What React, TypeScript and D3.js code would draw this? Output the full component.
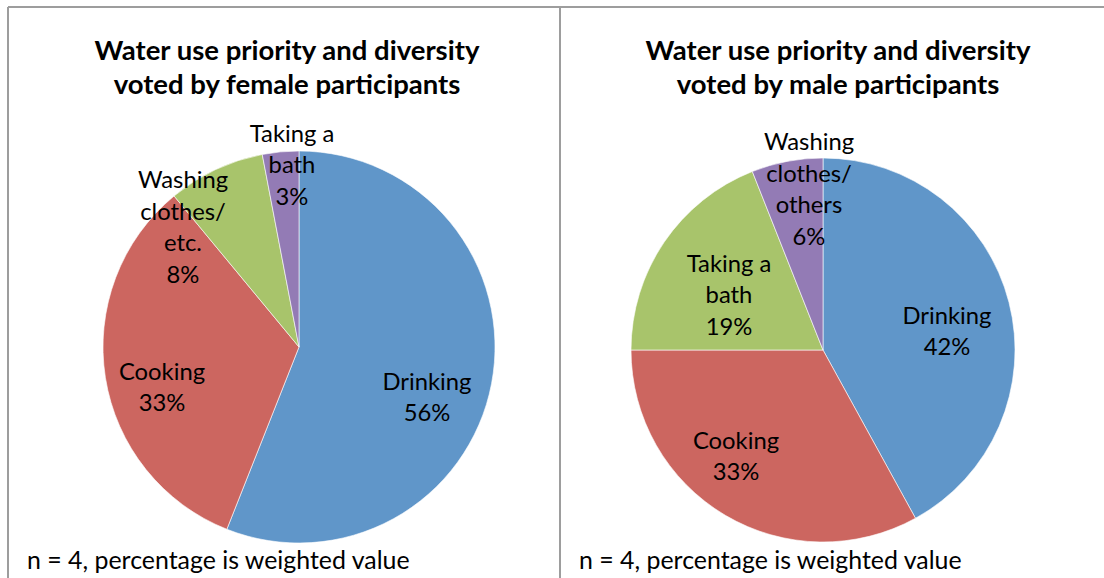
import React from "react";
import * as d3 from "d3";

// Female participants
const femaleCategories = ["Drinking", "Cooking", "Washing clothes/ etc.", "Taking a bath"];
const femaleValues = [56, 33, 8, 3];
const femaleLabelLines = [["Drinking"], ["Cooking"], ["Washing", "clothes/", "etc."], ["Taking a", "bath"]];

// Male participants
const maleCategories = ["Drinking", "Cooking", "Taking a bath", "Washing clothes/ others"];
const maleValues = [42, 33, 19, 6];
const maleLabelLines = [["Drinking"], ["Cooking"], ["Taking a", "bath"], ["Washing", "clothes/", "others"]];

const titleLine = "Water use priority and diversity";
const femaleSubtitle = "voted by female participants";
const maleSubtitle = "voted by male participants";
const footnote = "n = 4, percentage is weighted value";

// Slice colours, in slice order
const femaleColors = ["#6096C9", "#CC6660", "#A8C46B", "#937BB5"];
const maleColors = ["#6096C9", "#CC6660", "#A8C46B", "#937BB5"];

// Label anchor offsets (from pie centre) for each slice
const femaleLabelOffsets: [number, number][] = [[128, 50], [-137, 40], [-116, -120], [-7, -182]];
const maleLabelOffsets: [number, number][] = [[124, -19], [-87, 106], [-94, -55], [-14, -161]];

const FONT = "Lato, 'Open Sans', sans-serif";

type PieProps = {
  panelX: number;
  titleX: number;
  cx: number;
  cy: number;
  r: number;
  values: number[];
  categories: string[];
  labelLines: string[][];
  colors: string[];
  offsets: [number, number][];
  subtitle: string;
};

function PiePanel(p: PieProps) {
  const pie = d3
    .pie<number>()
    .value((d) => d)
    .sort(null)
    .startAngle(0)
    .endAngle(2 * Math.PI);
  const arcs = pie(p.values);
  const arc = d3.arc<d3.PieArcDatum<number>>().innerRadius(0).outerRadius(p.r);
  const lineH = 31.5;
  return (
    <g>
      <text
        x={p.titleX}
        y={60}
        textAnchor="middle"
        fontFamily={FONT}
        fontWeight="bold"
        fontSize={27.5}
        fill="#000"
      >
        {titleLine}
      </text>
      <text
        x={p.titleX}
        y={94}
        textAnchor="middle"
        fontFamily={FONT}
        fontWeight="bold"
        fontSize={27.5}
        fill="#000"
      >
        {p.subtitle}
      </text>
      <g transform={`translate(${p.cx},${p.cy})`}>
        {arcs.map((a, i) => (
          <path
            key={p.categories[i]}
            d={arc(a) || ""}
            fill={p.colors[i]}
            stroke="#ffffff"
            strokeWidth={0.6}
          />
        ))}
        {arcs.map((a, i) => {
          const lines = [...p.labelLines[i], `${p.values[i]}%`];
          const [ox, oy] = p.offsets[i];
          const top = oy - ((lines.length - 1) * lineH) / 2;
          return (
            <text
              key={"l" + i}
              textAnchor="middle"
              fontFamily={FONT}
              fontSize={23.8}
              fill="#000"
            >
              {lines.map((t, j) => (
                <tspan key={j} x={ox} y={top + j * lineH} dy="0.35em">
                  {t}
                </tspan>
              ))}
            </text>
          );
        })}
      </g>
      <text x={p.panelX + 19} y={569} fontFamily={FONT} fontSize={24.9} fill="#000">
        {footnote}
      </text>
    </g>
  );
}

export default function App() {
  const W = 1104;
  const H = 578;
  return (
    <svg
      width={W}
      height={H}
      style={{ position: "absolute", left: 0, top: 0, background: "#fff" }}
    >
      <rect x={0} y={0} width={W} height={H} fill="#fff" />
      {/* panel frames */}
      <line x1={8} y1={7} x2={W} y2={7} stroke="#9d9d9d" strokeWidth={2} />
      <line x1={8} y1={7} x2={8} y2={H} stroke="#9d9d9d" strokeWidth={2} />
      <line x1={560} y1={7} x2={560} y2={H} stroke="#9d9d9d" strokeWidth={2} />
      <PiePanel
        panelX={8}
        titleX={287}
        cx={299}
        cy={347}
        r={196}
        values={femaleValues}
        categories={femaleCategories}
        labelLines={femaleLabelLines}
        colors={femaleColors}
        offsets={femaleLabelOffsets}
        subtitle={femaleSubtitle}
      />
      <PiePanel
        panelX={560}
        titleX={838}
        cx={823}
        cy={350}
        r={192}
        values={maleValues}
        categories={maleCategories}
        labelLines={maleLabelLines}
        colors={maleColors}
        offsets={maleLabelOffsets}
        subtitle={maleSubtitle}
      />
    </svg>
  );
}
